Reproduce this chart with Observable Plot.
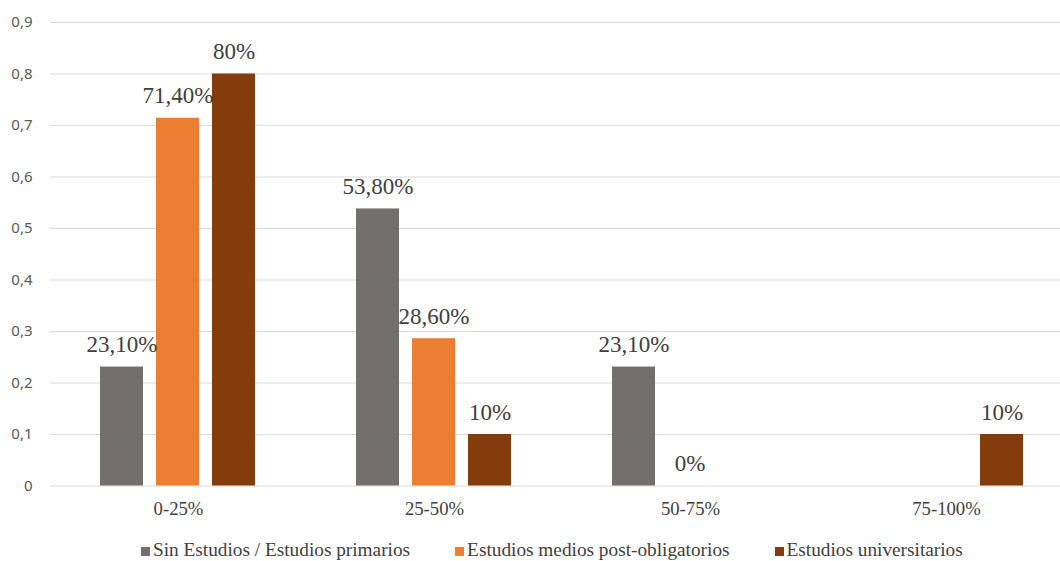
<!DOCTYPE html>
<html>
<head>
<meta charset="utf-8">
<script src="https://cdn.jsdelivr.net/npm/d3@7"></script>
<script src="https://cdn.jsdelivr.net/npm/@observablehq/plot@0.6"></script>
<style>
  html, body { margin: 0; padding: 0; background: #fff; overflow: hidden; width: 1060px; }
  #chart svg { display: block; overflow: hidden; }
  #legend { position: relative; height: 26px; font-family: "Liberation Serif", "Times New Roman", serif; font-size: 19.3px; color: #404040; }
  #legend .items { position: absolute; left: 141px; top: 4px; display: flex; align-items: center; white-space: nowrap; line-height: 22px; }
  #legend .item { display: flex; align-items: center; margin-right: 45px; }
  #legend .sw { width: 9px; height: 9px; margin-right: 3px; margin-top: 2px; display: inline-block; }
</style>
</head>
<body>
<div id="chart"></div>
<div id="legend"><div class="items"></div></div>
<script>
const groups = ["0-25%", "25-50%", "50-75%", "75-100%"];
const series = ["Sin Estudios / Estudios primarios", "Estudios medios post-obligatorios", "Estudios universitarios"];
const colors = ["#736f6e", "#ed7d31", "#843c0c"];
const sinEstudios = [0.231, 0.538, 0.231, null];
const mediosPost = [0.714, 0.286, 0, null];
const universitarios = [0.8, 0.1, null, 0.1];
const sinEstudiosLabels = ["23,10%", "53,80%", "23,10%", null];
const mediosPostLabels = ["71,40%", "28,60%", "0%", null];
const universitariosLabels = ["80%", "10%", null, "10%"];
const yTicks = [0, 0.1, 0.2, 0.3, 0.4, 0.5, 0.6, 0.7, 0.8, 0.9];

const valuesBySeries = [sinEstudios, mediosPost, universitarios];
const labelsBySeries = [sinEstudiosLabels, mediosPostLabels, universitariosLabels];
const data = [];
series.forEach((s, si) => {
  groups.forEach((g, gi) => {
    const v = valuesBySeries[si][gi];
    if (v !== null) data.push({group: g, series: s, value: v, label: labelsBySeries[si][gi]});
  });
});

const chart = Plot.plot({
  width: 1060,
  height: 535,
  marginLeft: 50,
  marginRight: -14,
  marginTop: 22,
  marginBottom: 49.5,
  fx: {domain: groups, padding: 0, label: null},
  x: {domain: series, paddingInner: 0.228, paddingOuter: 0.86, axis: null},
  y: {domain: [0, 0.9], label: null},
  color: {domain: series, range: colors},
  marks: [
    Plot.gridY(yTicks, {stroke: "#d9d9d9", strokeOpacity: 1, strokeWidth: 1}),
    Plot.axisY(yTicks, {tickSize: 0, tickPadding: 18, label: null,
      tickFormat: d => String(d).replace(".", ","),
      fontFamily: "Noto Sans, sans-serif", fontSize: 15, fill: "#595959"}),
    Plot.axisFx({anchor: "bottom", tickSize: 0, tickPadding: 16, label: null,
      fontFamily: "Liberation Serif, serif", fontSize: 18.7, fill: "#404040"}),
    Plot.barY(data, {fx: "group", x: "series", y: "value", fill: "series"}),
    Plot.text(data.filter(d => d.label !== null), {fx: "group", x: "series", y: "value", text: "label",
      lineAnchor: "bottom", dy: -15, fontFamily: "Liberation Serif, serif", fontSize: 23, fill: "#404040"})
  ]
});
document.getElementById("chart").appendChild(chart);

const items = document.querySelector("#legend .items");
series.forEach((s, i) => {
  const it = document.createElement("div");
  it.className = "item";
  const sw = document.createElement("span");
  sw.className = "sw";
  sw.style.background = colors[i];
  it.appendChild(sw);
  it.appendChild(document.createTextNode(s));
  items.appendChild(it);
});
</script>
</body>
</html>
